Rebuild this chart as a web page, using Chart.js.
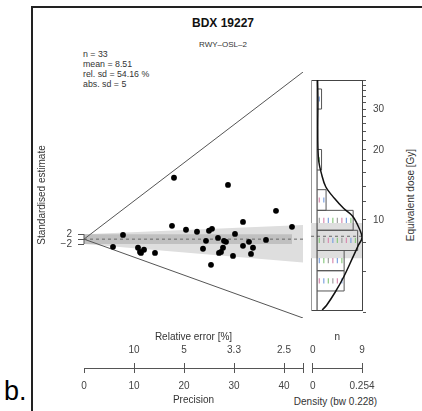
<!DOCTYPE html>
<html>
<head>
<meta charset="utf-8">
<script src="https://cdn.jsdelivr.net/npm/chart.js@4.4.1/dist/chart.umd.min.js"></script>
<style>
  body { margin: 0; width: 422px; height: 411px; position: relative; overflow: hidden; background: #fff;
         font-family: "Liberation Sans", Arial, sans-serif; color: #333; }
  canvas { position: absolute; }
  .frame { position: absolute; left: 31px; top: 6px; width: 400px; height: 420px;
           border-left: 2px solid #222; border-top: 2px solid #222; }
  .txt { position: absolute; white-space: nowrap; }
</style>
</head>
<body>
<div class="frame"></div>
<div class="txt" style="left:84px;width:278px;top:16px;text-align:center;font-weight:bold;font-size:12px;color:#111">BDX 19227</div>
<div class="txt" style="left:84px;width:278px;top:40px;text-align:center;font-size:8px;color:#333">RWY–OSL–2</div>
<div class="txt" style="left:83px;top:49px;font-size:8.8px;line-height:10px;color:#333">n = 33<br>mean = 8.51<br>rel. sd = 54.16 %<br>abs. sd = 5</div>
<div class="txt" style="left:4px;top:376px;font-size:27px;color:#000">b.</div>
<div class="txt" style="left:409.5px;top:195px;font-size:10px;color:#333;transform:translate(-50%,-50%) rotate(-90deg)">Equivalent dose [Gy]</div>
<div class="txt" style="left:335.5px;top:400.5px;font-size:10px;color:#333;transform:translate(-50%,-50%)">Density (bw 0.228)</div>

<canvas id="radial" width="303" height="330" style="left:0;top:0"></canvas>
<canvas id="hist" width="126" height="330" style="left:296px;top:0"></canvas>
<canvas id="axPrec" width="310" height="83" style="left:0;top:328px"></canvas>
<canvas id="axDens" width="119" height="83" style="left:303px;top:328px"></canvas>

<script>
// values
const precision = [7.8, 5.8, 10.8, 11.2, 12.0, 11.4, 14.2, 17.6, 18.0, 20.4, 22.6, 25.0, 25.6, 23.8, 24.4, 25.4, 26.8,
                   27.0, 27.4, 27.8, 28.0, 28.4, 28.8, 29.8, 30.2, 31.8, 31.8, 33.0, 33.4, 33.8, 36.4, 38.4, 41.6];
const zScore = [1.7, -3.1, -3.5, -5.2, -4.3, -5.6, -5.6, 5.4, 24.9, 3.8, 3.0, 3.4, 4.2, -3.9, -0.7, -10.4, 0.5,
                -5.6, -5.2, -3.5, -0.7, -1.1, 22.0, -6.8, 2.1, 7.0, -2.7, -1.1, -6.0, -3.5, -0.3, 11.5, 5.0];

const centralDose = 8.51;
const doseRange = [4.1, 40];
const pMax = 43.8;
const zBand = 2;
const bandDose = [6.85, 9.7];

const histEdges = [4.95, 6.05, 7.39, 9.03, 11.0, 13.5, 16.4, 20.1, 24.5, 30.0, 36.6];
const histCounts = [6, 6, 9, 8, 2, 0, 1, 0, 0, 1];

const kdeDose = [4.1, 4.3, 4.9, 5.7, 6.85, 7.8, 8.4, 9.35, 10.4, 11.2, 12.4, 13.9, 15.9, 17.8, 20.4, 25.7, 32.4, 40];
const kdeDens = [0.029, 0.054, 0.103, 0.151, 0.200, 0.234, 0.254, 0.234, 0.200, 0.151, 0.098, 0.049, 0.024, 0.010, 0.005, 0.004, 0.005, 0.003];

const doseTicks = [4, 6, 8, 10, 12, 14, 16, 18, 20, 22, 24, 26, 28, 30, 32, 34, 36, 38, 40];
const doseLabels = [10, 20, 30];
const precTicks = [0, 10, 20, 30, 40];
const relErrTicks = [10, 20, 30, 40];
const relErrLabels = ['10', '5', '3.3', '2.5'];
const nTicks = [0, 9];
const densTicks = [0, 0.254];

const rugColors = ['#d98cb0', '#7fa3e0', '#8cc982', '#a0a0a0'];

Chart.defaults.font.family = '"Liberation Sans", Arial, sans-serif';
Chart.defaults.font.size = 10;
Chart.defaults.color = '#444';

const base = {
    responsive: false, animation: false, events: [],
    layout: { autoPadding: false },
    plugins: { legend: { display: false }, tooltip: { enabled: false } }
};

const seg = (pts, color, extra) => Object.assign({
    data: pts, showLine: true, pointRadius: 0, borderColor: color, borderWidth: 1, fill: false, order: 1
}, extra || {});

const zOf = d => pMax * Math.log(d / centralDose);
const maxPrec = Math.max(...precision);
const LIGHT = 'rgb(222,222,222)', DARK = 'rgb(192,192,192)';

// radial (abanico) part
new Chart(document.getElementById('radial'), {
    type: 'scatter',
    data: { datasets: [
        { data: precision.map((p, i) => ({ x: p, y: zScore[i] })), pointRadius: 2.9,
          pointBackgroundColor: '#000', pointBorderWidth: 0, order: 0 },
        seg([{ x: 0, y: 0 }, { x: pMax, y: zOf(doseRange[1]) }], '#555'),
        seg([{ x: 0, y: 0 }, { x: pMax, y: zOf(doseRange[0]) }], '#555'),
        seg([{ x: 0, y: 0 }, { x: pMax, y: 0 }], '#666', { borderDash: [3, 3], order: 2 }),
        seg([{ x: 0, y: -zBand }, { x: 0, y: zBand }], '#555', { clip: false }),
        seg([{ x: 0, y: zBand }, { x: maxPrec, y: zBand }], DARK, { borderWidth: 0, fill: '+1', backgroundColor: DARK, order: 3 }),
        seg([{ x: 0, y: -zBand }, { x: maxPrec, y: -zBand }], DARK, { borderWidth: 0, order: 3 }),
        seg([{ x: 0, y: zBand }, { x: pMax, y: zOf(bandDose[1]) }], LIGHT, { borderWidth: 0, fill: '+1', backgroundColor: LIGHT, order: 4 }),
        seg([{ x: 0, y: -zBand }, { x: pMax, y: zOf(bandDose[0]) }], LIGHT, { borderWidth: 0, order: 4 })
    ]},
    options: Object.assign({}, base, {
        layout: { autoPadding: false, padding: { left: 0, top: 72, right: 0, bottom: 12 } },
        scales: {
            x: { type: 'linear', min: 0, max: pMax, display: false },
            y: {
                type: 'linear', min: zOf(doseRange[0]), max: zOf(doseRange[1]),
                afterFit: s => { s.width = 84; },
                afterBuildTicks: s => { s.ticks = [-zBand, 0, zBand].map(v => ({ value: v })); },
                ticks: { autoSkip: false, padding: 6, color: '#444',
                         callback: v => v === 0 ? '' : (v < 0 ? '\u2212' : '') + Math.abs(v) },
                grid: { drawOnChartArea: false, tickLength: 6, color: '#555' },
                border: { display: false },
                title: { display: true, text: 'Standardised estimate', color: '#333', padding: { top: 36.5, bottom: 0 } }
            }
        }
    })
});

// histogram / KDE part
const nMin = -1.34, nMax = 9.96, dMin = -0.0342, dMax = 0.254;
const histSets = [];
const rug = [], rugCol = [];
histCounts.forEach((c, i) => {
    if (!c) return;
    const lo = histEdges[i], hi = histEdges[i + 1];
    histSets.push(seg([{ x: 0, y: lo }, { x: c, y: lo }, { x: c, y: hi }, { x: 0, y: hi }], '#555',
                      { xAxisID: 'xn', yAxisID: 'y', order: 2 }));
    for (let k = 0; k < c; k++) {
        rug.push({ x: k + 0.5, y: Math.sqrt(lo * hi) });
        rugCol.push(rugColors[(k + i) % rugColors.length]);
    }
});

new Chart(document.getElementById('hist'), {
    type: 'scatter',
    data: { datasets: [
        { data: kdeDose.map((d, i) => ({ x: kdeDens[i], y: d })), xAxisID: 'xd', yAxisID: 'y', showLine: true,
          pointRadius: 0, borderColor: '#111', borderWidth: 1.5, tension: 0.35, order: 0 },
        { data: rug, xAxisID: 'xn', yAxisID: 'y', pointStyle: 'line', rotation: 90, pointRadius: 2.6,
          pointBorderColor: rugCol, pointBorderWidth: 1.2, order: 1 },
        ...histSets,
        seg([{ x: 0, y: doseRange[0] }, { x: 0, y: doseRange[1] }], '#333', { xAxisID: 'xn', yAxisID: 'y', order: 2 }),
        seg([{ x: nMin, y: centralDose }, { x: nMax, y: centralDose }], '#666',
            { xAxisID: 'xn', yAxisID: 'y', borderDash: [3, 3], order: 3 }),
        seg([{ x: nMin, y: bandDose[1] }, { x: nMax, y: bandDose[1] }], LIGHT,
            { xAxisID: 'xn', yAxisID: 'y', borderWidth: 0, fill: '+1', backgroundColor: LIGHT, order: 4 }),
        seg([{ x: nMin, y: bandDose[0] }, { x: nMax, y: bandDose[0] }], LIGHT,
            { xAxisID: 'xn', yAxisID: 'y', borderWidth: 0, order: 4 })
    ]},
    options: Object.assign({}, base, {
        layout: { autoPadding: false, padding: { left: 7, top: 72, right: 0, bottom: 12 } },
        scales: {
            y: {
                type: 'logarithmic', position: 'right', min: doseRange[0], max: doseRange[1],
                afterFit: s => { s.width = 60; },
                afterBuildTicks: s => { s.ticks = doseTicks.map(v => ({ value: v })); },
                ticks: { autoSkip: false, padding: 7, color: '#444',
                         callback: v => doseLabels.includes(v) ? String(v) : '' },
                grid: { drawOnChartArea: false, tickLength: 4, color: '#555' },
                border: { color: '#444' }
            },
            xn: { type: 'linear', position: 'bottom', min: nMin, max: nMax,
                  ticks: { display: false }, grid: { display: false }, border: { color: '#444' } },
            xd: { type: 'linear', position: 'top', min: dMin, max: dMax,
                  ticks: { display: false }, grid: { display: false }, border: { color: '#444' } },
            yl: { type: 'linear', position: 'left', ticks: { display: false }, grid: { display: false },
                  border: { color: '#999' } }
        }
    })
});

// bottom axes: precision / relative error
const tickLine = { drawOnChartArea: false, tickLength: 5, color: '#555' };
new Chart(document.getElementById('axPrec'), {
    type: 'scatter',
    data: { datasets: [] },
    options: Object.assign({}, base, {
        layout: { autoPadding: false, padding: { left: 84, right: 7, top: 0, bottom: 0 } },
        scales: {
            xr: { type: 'linear', position: 'top', min: 0, max: pMax,
                  afterFit: s => { s.height = 40; },
                  afterBuildTicks: s => { s.ticks = relErrTicks.concat([pMax]).map(v => ({ value: v })); },
                  ticks: { autoSkip: false, maxRotation: 0, padding: 6.5,
                           callback: (v, i) => relErrLabels[i] || '' },
                  grid: tickLine, border: { color: '#555' },
                  title: { display: true, text: 'Relative error [%]', color: '#333', padding: { top: 3, bottom: 0 } } },
            xp: { type: 'linear', position: 'bottom', min: 0, max: pMax,
                  afterFit: s => { s.height = 43; },
                  afterBuildTicks: s => { s.ticks = precTicks.concat([pMax]).map(v => ({ value: v })); },
                  ticks: { autoSkip: false, maxRotation: 0, padding: 7,
                           callback: v => precTicks.includes(v) ? String(v) : '' },
                  grid: tickLine, border: { color: '#555' },
                  title: { display: true, text: 'Precision', color: '#333', padding: { top: 0, bottom: 4.5 } } },
            y: { display: false }
        }
    })
});

// bottom axes: n / density
new Chart(document.getElementById('axDens'), {
    type: 'scatter',
    data: { datasets: [] },
    options: Object.assign({}, base, {
        layout: { autoPadding: false, padding: { left: 6, right: 60, top: 0, bottom: 0 } },
        scales: {
            xt: { type: 'linear', position: 'top', min: nTicks[0], max: nTicks[1],
                  afterFit: s => { s.height = 40; },
                  afterBuildTicks: s => { s.ticks = nTicks.map(v => ({ value: v })); },
                  ticks: { autoSkip: false, maxRotation: 0, padding: 6.5 },
                  grid: tickLine, border: { color: '#555' },
                  title: { display: true, text: 'n', color: '#333', padding: { top: 3, bottom: 0 } } },
            xb: { type: 'linear', position: 'bottom', min: densTicks[0], max: densTicks[1],
                  afterFit: s => { s.height = 43; },
                  afterBuildTicks: s => { s.ticks = densTicks.map(v => ({ value: v })); },
                  ticks: { autoSkip: false, maxRotation: 0, padding: 7, callback: v => String(v) },
                  grid: tickLine, border: { color: '#555' } },
            y: { display: false }
        }
    })
});
</script>
</body>
</html>
